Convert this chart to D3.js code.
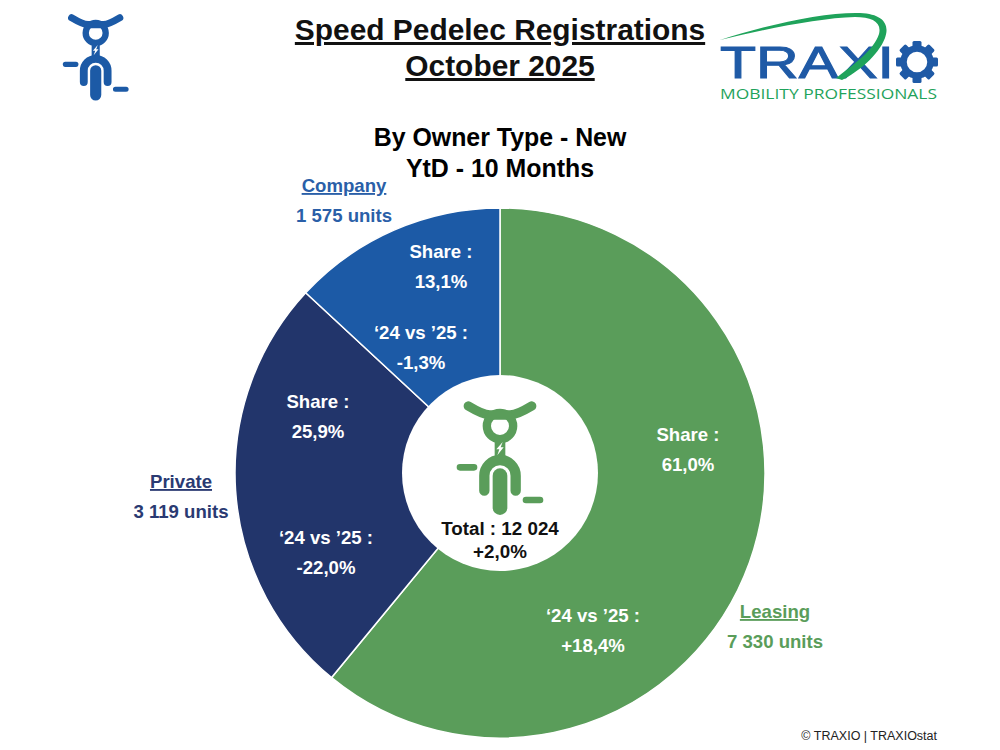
<!DOCTYPE html>
<html><head><meta charset="utf-8">
<script src="https://cdn.jsdelivr.net/npm/d3@7"></script>
<style>html,body{margin:0;padding:0;background:#fff}svg{display:block}text{font-family:"Liberation Sans",Arial,sans-serif;font-weight:700}</style>
</head><body><div id="chart"></div>
<script>
const categories=["Leasing","Private","Company"];
const units=[7330,3119,1575];
const unitLabels=["7 330 units","3 119 units","1 575 units"];
const shareLabels=["61,0%","25,9%","13,1%"];
const changeLabels=["+18,4%","-22,0%","-1,3%"];
const sliceColors=["#5a9d5a","#22356b","#1c5aa6"];
const labelColors=["#5a9d5a","#2a3a72","#2a5fa8"];
const titleLines=["Speed Pedelec Registrations","October 2025"];
const subtitleLines=["By Owner Type - New","YtD - 10 Months"];
const totalLines=["Total : 12 024","+2,0%"];

const W=1000,H=750,cx=500,cy=473,R=265,r=98;
const svg=d3.select("#chart").append("svg").attr("width",W).attr("height",H).attr("viewBox",`0 0 ${W} ${H}`);
const arcs=d3.pie().sort(null)(units);
const arc=d3.arc().innerRadius(0).outerRadius(R);
const chart=svg.append("g").attr("transform",`translate(${cx},${cy})`);
chart.selectAll("path.slice").data(arcs).join("path").attr("class","slice")
 .attr("d",arc).attr("fill",(d,i)=>sliceColors[i]).attr("stroke","#fff").attr("stroke-width",1.5);
chart.append("circle").attr("r",r).attr("fill","#fff");

function text(x,y,s,size,fill,opts={}){
 const t=svg.append("text").attr("x",x).attr("y",y).attr("text-anchor",opts.anchor||"middle")
  .attr("font-size",size).attr("fill",fill).text(s);
 if(opts.underline)t.attr("text-decoration","underline");
 if(opts.weight)t.style("font-weight",opts.weight);
 return t;
}
titleLines.forEach((s,i)=>text(500,40+i*36,s,29.9,"#111",{underline:true}));
subtitleLines.forEach((s,i)=>text(500,146+i*31,s,24.9,"#000"));

const namePos=[[775,618],[181,488],[344,192]];
const unitPos=[[775,648],[181,518],[344,222]];
const sharePos=[[688,441],[318,408],[441,258]];
const changePos=[[593,622],[326,544],[421,339]];
categories.forEach((c,i)=>{
 text(namePos[i][0],namePos[i][1],c,18.6,labelColors[i],{underline:true});
 text(unitPos[i][0],unitPos[i][1],unitLabels[i],18.6,labelColors[i]);
 text(sharePos[i][0],sharePos[i][1],"Share :",18.6,"#fff");
 text(sharePos[i][0],sharePos[i][1]+30,shareLabels[i],18.6,"#fff");
 text(changePos[i][0],changePos[i][1],"‘24 vs ’25 :",18.6,"#fff");
 text(changePos[i][0],changePos[i][1]+30,changeLabels[i],18.6,"#fff");
});
totalLines.forEach((s,i)=>text(500,535+i*23,s,18.8,"#111"));
text(937,740,"© TRAXIO | TRAXIOstat",12.5,"#222",{anchor:"end",weight:400});

function bike(x,y,k,color){
 const g=svg.append("g").attr("transform",`translate(${x},${y}) scale(${k})`)
  .attr("fill","none").attr("stroke",color).attr("stroke-linecap","round");
 g.append("path").attr("d","M-95,78Q-50,105-30,105L30,105Q50,105 95,78").attr("stroke-width",28);
 g.append("circle").attr("cy",138).attr("r",39.5).attr("stroke-width",25);
 g.append("path").attr("d","M0,170V240").attr("stroke-width",32).attr("stroke-linecap","butt");
 g.append("path").attr("d","M-47,332V287A47,47 0 0 1 47,287V332").attr("stroke-width",31);
 g.append("path").attr("d","M0,287V383").attr("stroke-width",44);
 g.append("path").attr("d","M-120,262H-78M78,360H120").attr("stroke-width",20);
 g.append("path").attr("d","M8,186L-11,208L-2,208L-8,226L11,202L2,202Z").attr("fill","#fff").attr("stroke","none");
}
bike(500,380,1/3,"#5a9d5a");
bike(95.7,-2,0.76/3,"#1c5aa6");

// logo
const logo=svg.append("g");
logo.append("text").attr("x",720).attr("y",78).attr("font-size",45).attr("fill","#1f5aa6")
 .attr("textLength",174).attr("lengthAdjust","spacingAndGlyphs").style("font-weight",400).attr("stroke","#1f5aa6").attr("stroke-width",1).text("TRAXI");
logo.append("path").attr("fill","#1fa35b")
 .attr("d","M720,40C770,24 825,12 860,13C883,14 890,24 885,38C878,56 858,72 842,80L836,78C852,66 874,50 879,34C882,22 872,17 855,17C820,18 770,28 720,40Z");
const gear=logo.append("g").attr("transform","translate(917,62)");
d3.range(8).forEach(i=>gear.append("rect").attr("x",-4.5).attr("y",-21).attr("width",9).attr("height",9).attr("rx",1.5)
 .attr("fill","#1f5aa6").attr("transform",`rotate(${i*45})`));
gear.append("circle").attr("r",13.5).attr("fill","none").attr("stroke","#1f5aa6").attr("stroke-width",6.5);
logo.append("text").attr("x",720).attr("y",99).attr("font-size",14).attr("fill","#1fa35b")
 .attr("textLength",217).attr("lengthAdjust","spacingAndGlyphs").style("font-family","'Open Sans'").style("font-weight",500).text("MOBILITY PROFESSIONALS");
</script></body></html>
